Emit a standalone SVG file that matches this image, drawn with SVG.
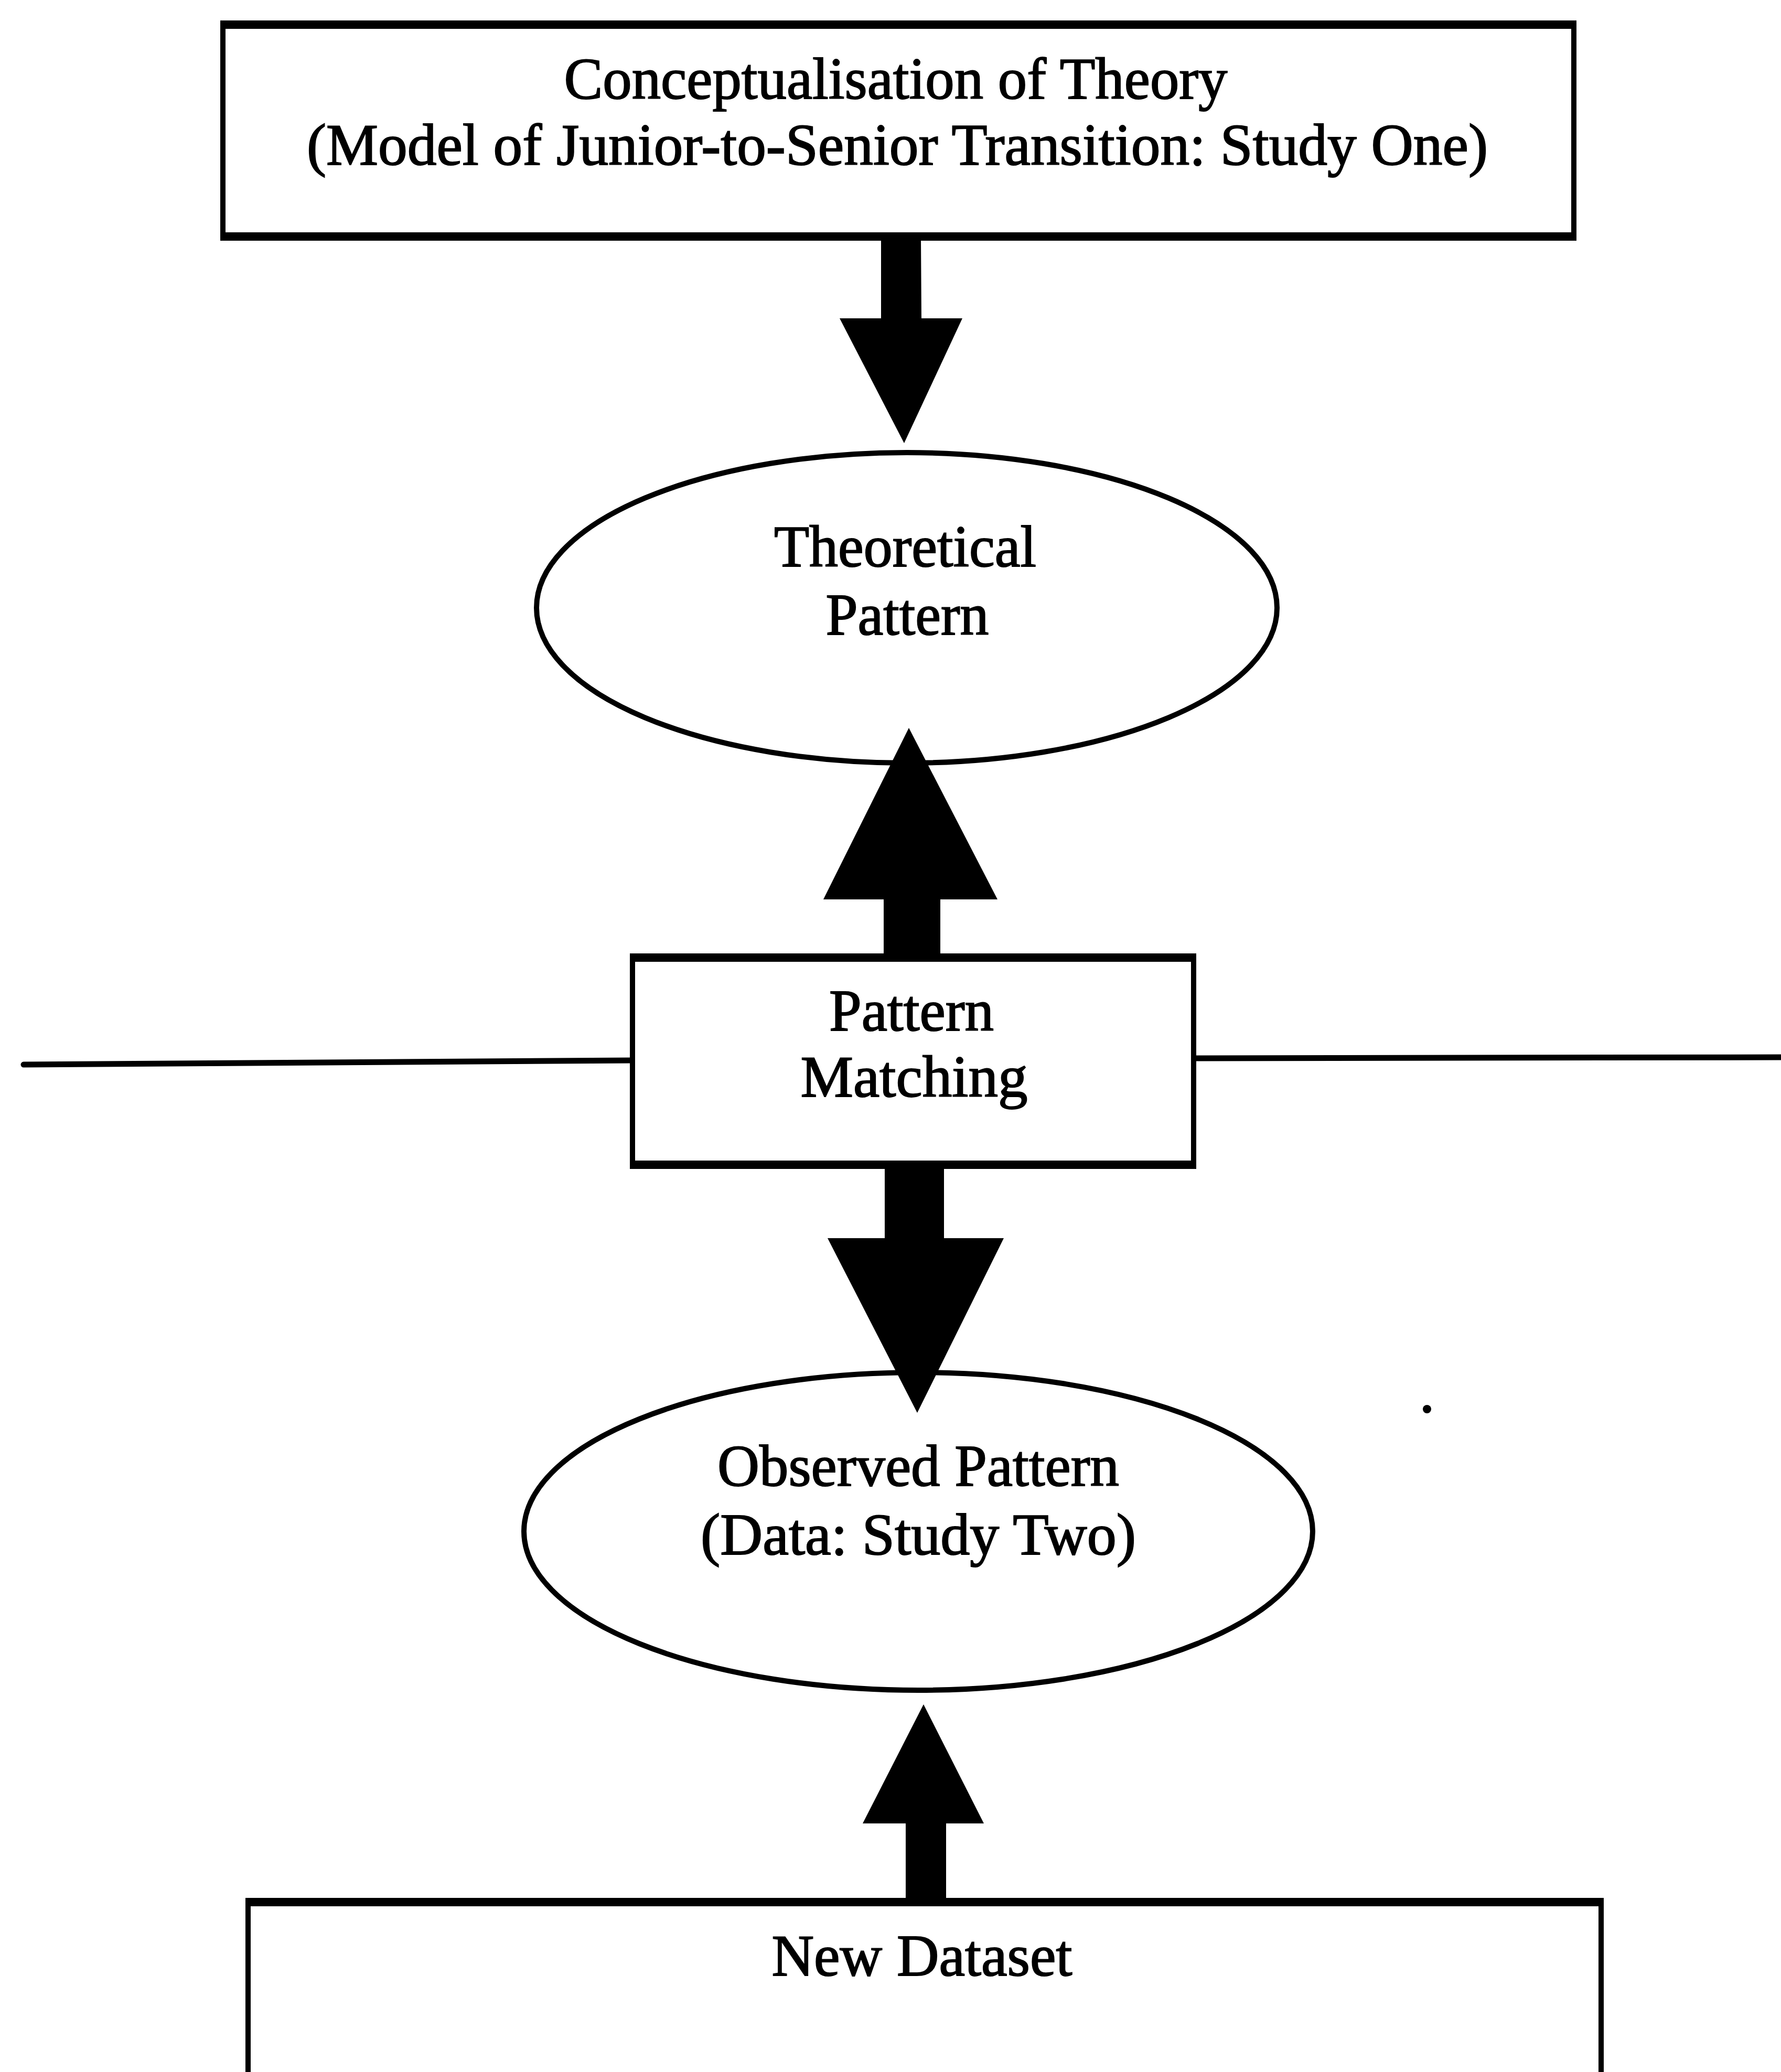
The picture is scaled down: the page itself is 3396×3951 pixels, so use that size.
<svg xmlns="http://www.w3.org/2000/svg" width="3396" height="3951" viewBox="0 0 3396 3951">
<style>
  .bg { fill: #ffffff; }
  .box { fill: none; stroke: #000; stroke-width: 10; }
  .edge { stroke: #000; stroke-width: 16; fill: none; }
  .ell { fill: none; stroke: #000; stroke-width: 10; }
  .lbl { font-family: "Liberation Serif", "Times New Roman", serif; font-size: 112px; fill: #000; stroke: #000; stroke-width: 2; text-anchor: middle; }
  .arrow { fill: #000; stroke: none; }
  .rule { stroke: #000; stroke-width: 11; fill: none; stroke-linecap: round; }
</style>
<rect class="bg" x="0" y="0" width="3396" height="3951"/>

<g id="connectors">
  <polygon class="arrow" points="1680,455 1756,455 1757,607 1835,607 1724,845 1601,607 1680,607"/>
  <polygon class="arrow" points="1733,1388 1902,1715 1793,1715 1793,1822 1685,1822 1685,1715 1570,1715"/>
  <polygon class="arrow" points="1687,2223 1800,2223 1800,2361 1914,2361 1749,2694 1578,2361 1687,2361"/>
  <polygon class="arrow" points="1761,3250 1876,3477 1804,3477 1804,3622 1727,3622 1727,3477 1645,3477"/>
  <line class="rule" x1="45" y1="2030" x2="1203" y2="2022"/>
  <line class="rule" x1="2277" y1="2018" x2="3396" y2="2016"/>
</g>

<g id="node-theory">
  <rect class="box" x="425" y="47" width="2576" height="404"/>
  <line class="edge" x1="420" y1="47" x2="3006" y2="47"/>
  <line class="edge" x1="420" y1="451" x2="3006" y2="451"/>
  <text class="lbl" x="1708" y="188" textLength="1265" lengthAdjust="spacingAndGlyphs">Conceptualisation of Theory</text>
  <text class="lbl" x="1711" y="314" textLength="2252" lengthAdjust="spacingAndGlyphs">(Model of Junior-to-Senior Transition: Study One)</text>
</g>

<g id="node-theoretical">
  <ellipse class="ell" cx="1729" cy="1159" rx="706" ry="296"/>
  <text class="lbl" x="1726" y="1080" textLength="500" lengthAdjust="spacingAndGlyphs">Theoretical</text>
  <text class="lbl" x="1730" y="1210" textLength="311" lengthAdjust="spacingAndGlyphs">Pattern</text>
</g>

<g id="node-matching">
  <rect class="box" x="1206" y="1826" width="1070" height="395"/>
  <line class="edge" x1="1201" y1="1826" x2="2281" y2="1826"/>
  <line class="edge" x1="1201" y1="2221" x2="2281" y2="2221"/>
  <text class="lbl" x="1738" y="1965" textLength="314" lengthAdjust="spacingAndGlyphs">Pattern</text>
  <text class="lbl" x="1743" y="2091" textLength="433" lengthAdjust="spacingAndGlyphs">Matching</text>
</g>

<g id="node-observed">
  <ellipse class="ell" cx="1751" cy="2920" rx="752" ry="303"/>
  <text class="lbl" x="1751" y="2833" textLength="766" lengthAdjust="spacingAndGlyphs">Observed Pattern</text>
  <text class="lbl" x="1751" y="2964" textLength="830" lengthAdjust="spacingAndGlyphs">(Data: Study Two)</text>
</g>

<g id="node-dataset">
  <path class="box" d="M473,3965 L473,3627 L3053,3627 L3053,3965"/>
  <line class="edge" x1="468" y1="3627" x2="3058" y2="3627"/>
  <text class="lbl" x="1758" y="3767" textLength="573" lengthAdjust="spacingAndGlyphs">New Dataset</text>
</g>

<circle id="speck" cx="2721" cy="2687" r="8" fill="#000"/>
</svg>
